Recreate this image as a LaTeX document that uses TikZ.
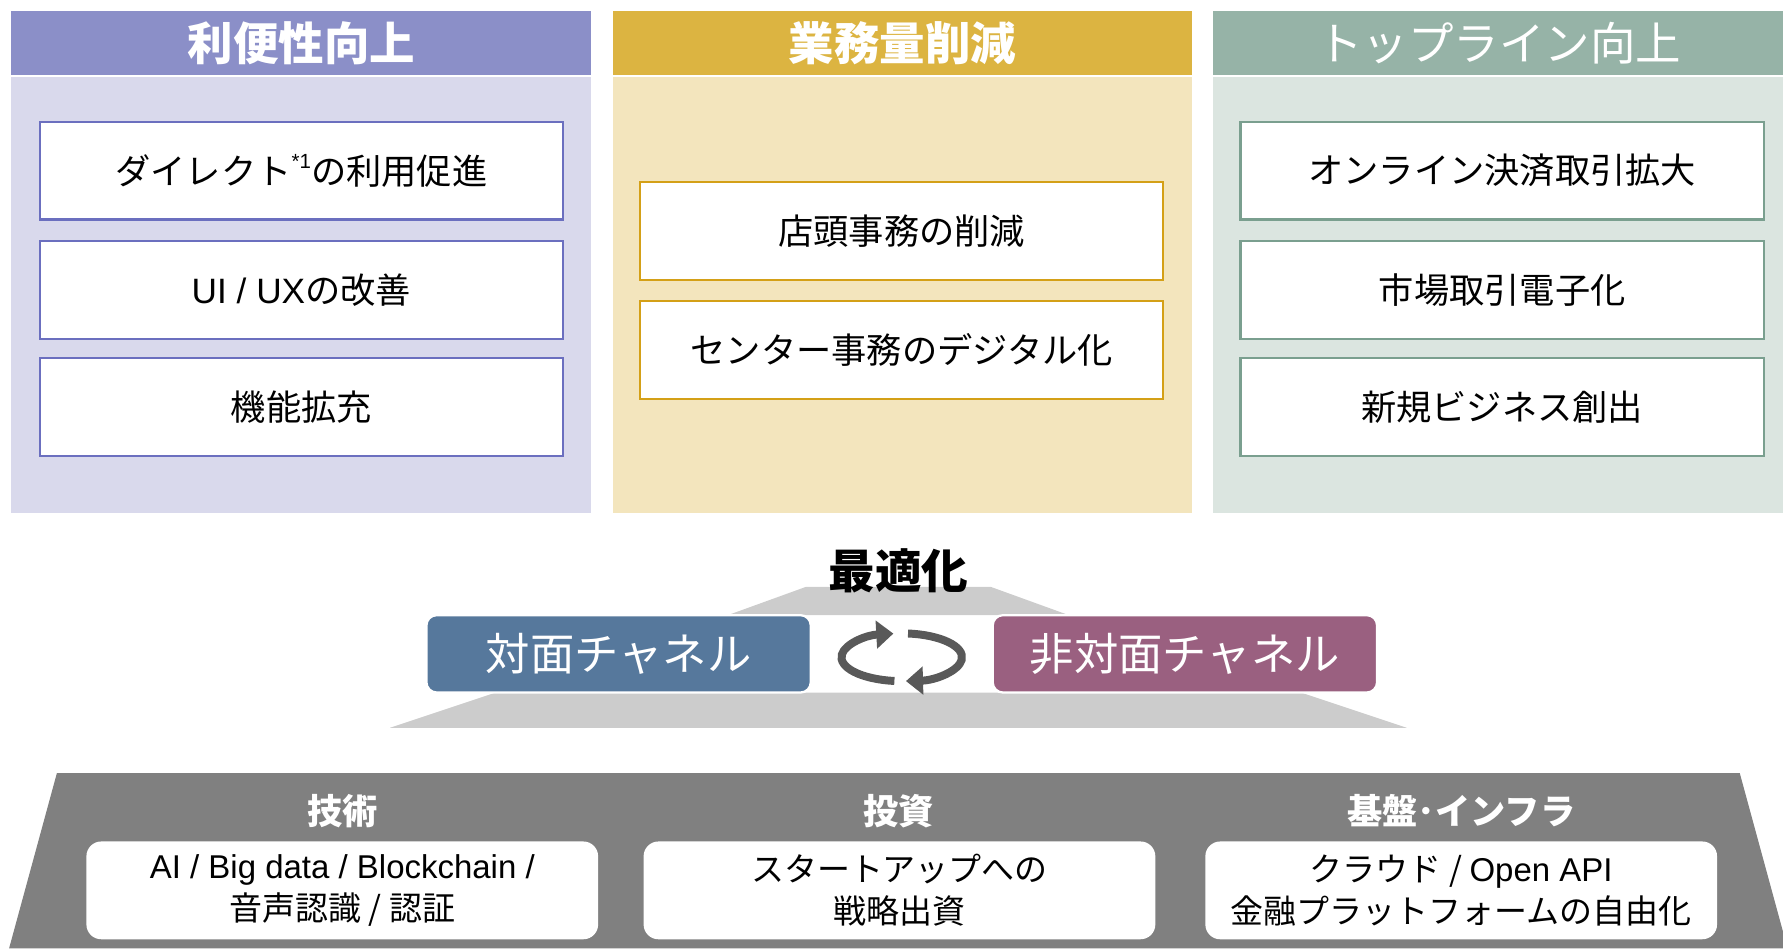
\documentclass[tikz,border=0pt]{standalone}
\usepackage{fontspec}
\setmainfont{Noto Sans CJK JP}
\newfontfamily\lat{Liberation Sans}
\usetikzlibrary{arrows.meta}
\definecolor{pA}{HTML}{8B8FC8}
\definecolor{pAb}{HTML}{D9D9EC}
\definecolor{pAl}{HTML}{6B6FBF}
\definecolor{pB}{HTML}{DCB441}
\definecolor{pBb}{HTML}{F3E5BD}
\definecolor{pBl}{HTML}{D4A017}
\definecolor{pC}{HTML}{96B3A7}
\definecolor{pCb}{HTML}{DBE5E0}
\definecolor{pCl}{HTML}{7A9F8F}
\definecolor{chA}{HTML}{56789C}
\definecolor{chB}{HTML}{9A6080}
\definecolor{midgray}{HTML}{CCCCCC}
\definecolor{basegray}{HTML}{808080}
\definecolor{cyc}{HTML}{595959}
\tikzset{
  hdr/.style={minimum height=56pt, inner sep=0pt, text=white,
    font=\fontsize{40}{40}\selectfont\bfseries},
  item/.style={draw, line width=2pt, fill=white, minimum width=460pt,
    minimum height=86pt, inner sep=0pt, text=black,
    font=\fontsize{31}{31}\selectfont},
  chan/.style={draw=white, line width=2pt, rounded corners=9pt,
    minimum width=338pt, minimum height=68pt, inner sep=0pt, text=white,
    font=\fontsize{39}{39}\selectfont},
  blabel/.style={inner sep=0pt, text=white, font=\fontsize{31}{31}\selectfont\bfseries},
  bbox/.style={fill=white, rounded corners=13pt, minimum width=450pt,
    minimum height=86pt, inner sep=0pt, align=center, text=black,
    font=\fontsize{29}{37}\selectfont},
  cycarrow/.style={draw=cyc, line width=7pt, -{Triangle[length=15pt,width=24pt]}}
}
\begin{document}
\begin{tikzpicture}[x=1pt,y=-1pt]
\useasboundingbox (0,0) rectangle (1568,834);
\clip (0,0) rectangle (1568,834);
% ---- top panels
\fill[pAb] (10,68) rectangle (520,451);
\fill[pBb] (539,68) rectangle (1048,451);
\fill[pCb] (1067,68) rectangle (1576,451);
\node[hdr, fill=pA, minimum width=510pt] (hA) at (265,38) {利便性向上};
\node[hdr, fill=pB, minimum width=509pt] (hB) at (793.5,38) {業務量削減};
\node[hdr, fill=pC, minimum width=509pt, font=\fontsize{40}{40}\selectfont] (hC) at (1321.5,38) {\hspace*{-6pt}トップライン向上};
% left items
\node[item, draw=pAl] (a1) at (265,150) {ダイレクト\raisebox{0.45em}{\fontsize{18}{18}\selectfont\lat *1}の利用促進};
\node[item, draw=pAl] (a2) at (265,255) {{\lat UI / UX}の改善};
\node[item, draw=pAl] (a3) at (265,358) {機能拡充};
% middle items
\node[item, draw=pBl] (b1) at (793,203) {店頭事務の削減};
\node[item, draw=pBl] (b2) at (793,308) {センター事務のデジタル化};
% right items
\node[item, draw=pCl] (c1) at (1321,150) {オンライン決済取引拡大};
\node[item, draw=pCl] (c2) at (1321,255) {市場取引電子化};
\node[item, draw=pCl] (c3) at (1321,358) {新規ビジネス創出};
% ---- optimisation area
\fill[midgray] (709,516) -- (871,516) -- (940,541) -- (640,541) -- cycle;
\fill[midgray] (436,609) -- (1144,609) -- (1237,640) -- (343,640) -- cycle;
\node[inner sep=0pt, font=\fontsize{41}{41}\selectfont\bfseries] (opt) at (790,502) {最適化};
\node[chan, fill=chA] (ch1) at (544,575) {対面チャネル};
\node[chan, fill=chB] (ch2) at (1042,575) {非対面チャネル};
\coordinate (cc) at (793,578);
\draw[cycarrow] (cc) ++(97:53 and 21) arc[start angle=97, end angle=262, x radius=53, y radius=21];
\draw[cycarrow] (cc) ++(-84:53 and 21) arc[start angle=-84, end angle=86, x radius=53, y radius=21];
% ---- base
\fill[basegray] (50,680) -- (1530,680) -- (1572,834) -- (8,834) -- cycle;
\node[blabel] (l1) at (301,713) {技術};
\node[blabel] (l2) at (790,713) {投資};
\node[blabel] (l3) at (1285,713) {基盤･インフラ};
\node[bbox] (d1) at (301,783) {{\lat AI / Big data / Blockchain /}\\音声認識 / 認証};
\node[bbox] (d2) at (791,783) {スタートアップへの\\戦略出資};
\node[bbox] (d3) at (1285,783) {クラウド / {\lat Open API}\\金融プラットフォームの自由化};
\end{tikzpicture}
\end{document}
